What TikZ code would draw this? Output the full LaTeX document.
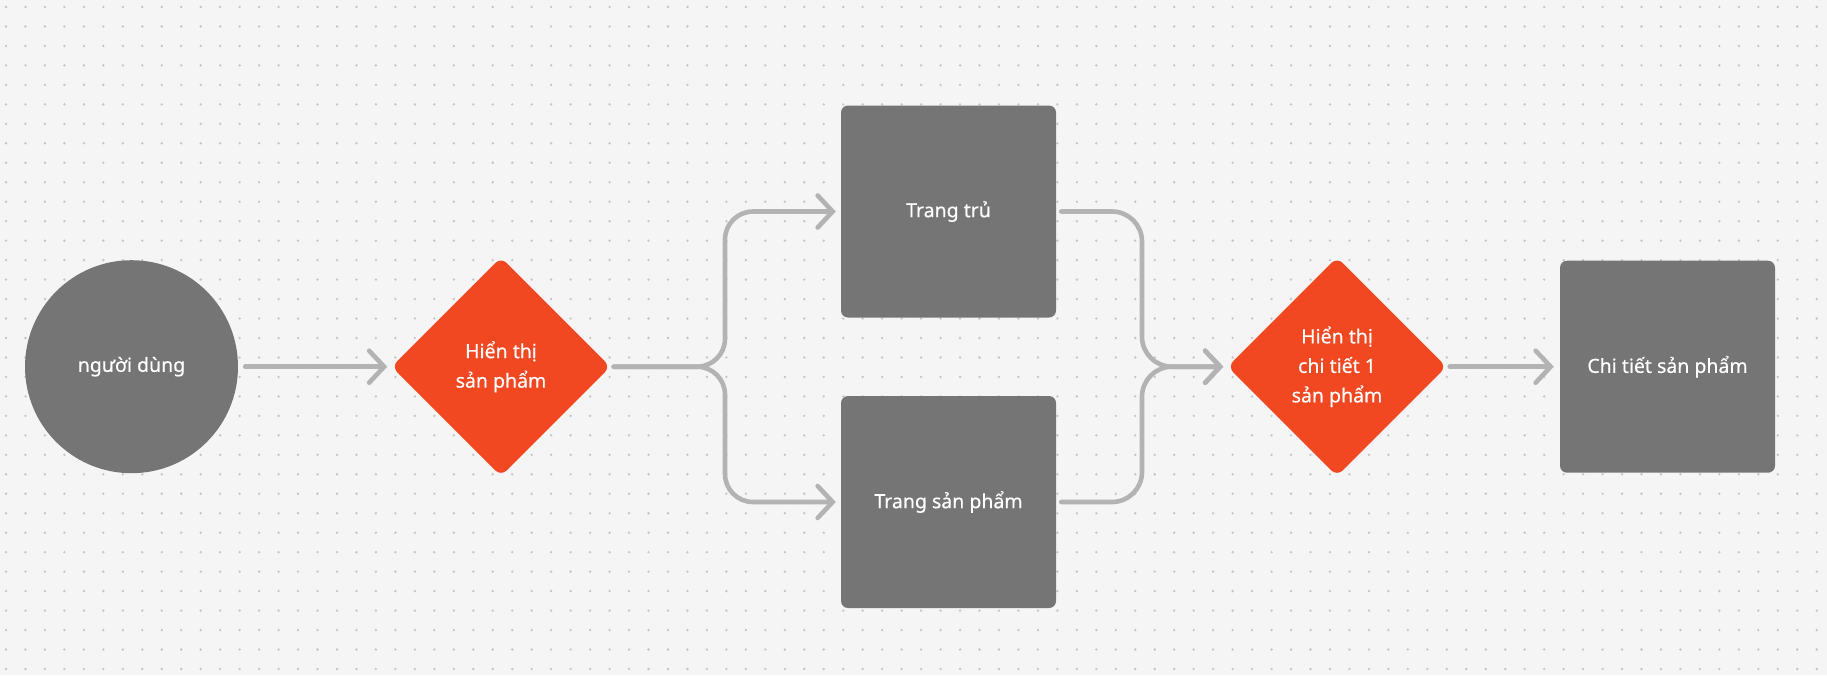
\documentclass[tikz,border=0pt]{standalone}
\usepackage{fontspec}
\setmainfont{Noto Sans}
\usetikzlibrary{shapes.geometric,arrows.meta}
\definecolor{bgc}{HTML}{F5F5F5}
\definecolor{dotc}{HTML}{C4C4C4}
\definecolor{boxc}{HTML}{757575}
\definecolor{orng}{HTML}{F24822}
\definecolor{linec}{HTML}{B3B3B3}
\tikzset{
  lbl/.style={text=white, align=center, font=\fontsize{19.5}{29.5}\selectfont\addfontfeature{FakeBold=0.4}},
  userc/.style={circle, fill=boxc, minimum size=213pt, inner sep=0pt, lbl},
  decis/.style={diamond, fill=orng, minimum width=219pt, minimum height=219pt, inner sep=0pt, rounded corners=8pt, lbl},
  pagebox/.style={rectangle, fill=boxc, minimum width=215pt, minimum height=212pt, rounded corners=7pt, lbl},
  conn/.style={draw=linec, line width=4.6pt, line cap=round, line join=round,
    -{Straight Barb[length=15pt,width=32pt,line cap=round]}},
}
\begin{document}
\begin{tikzpicture}[x=1pt,y=-1pt]
\useasboundingbox (0,0) rectangle (1827,675);
\fill[bgc] (0,0) rectangle (1827,675);
\foreach \i in {0,...,93}{
  \foreach \j in {0,...,34}{
    \fill[dotc] ({6+19.47*\i},{7+19.47*\j}) circle (1.3pt);
  }
}
\node[userc] (user) at (131.5,366.7) {\raisebox{-4pt}{người dùng}};
\node[decis] (d1) at (501,366.7) {Hiển thị\\sản phẩm};
\node[pagebox] (r1) at (948.5,211.5) {\raisebox{-4pt}{Trang trủ}};
\node[pagebox] (r2) at (948.5,502) {\raisebox{-4pt}{Trang sản phẩm}};
\node[decis] (d2) at (1337,366.7) {Hiển thị\\chi tiết 1\\sản phẩm};
\node[pagebox] (r3) at (1667.5,366.7) {\raisebox{-4pt}{Chi tiết sản phẩm}};
\coordinate (bx) at (725,0);
\coordinate (mx) at (1142,0);

\draw[conn] ([xshift=7pt]user.east) -- ([xshift=-4pt]d1.west);
\draw[conn, rounded corners=28pt] ([xshift=3pt]d1.east) -- (bx |- d1.east) -- (bx |- r1.west) -- ([xshift=-5pt]r1.west);
\draw[conn, rounded corners=28pt] ([xshift=3pt]d1.east) -- (bx |- d1.east) -- (bx |- r2.west) -- ([xshift=-5pt]r2.west);
\draw[conn, rounded corners=30pt] ([xshift=5pt]r1.east) -- (mx |- r1.east) -- (mx |- d2.west) -- ([xshift=-4pt]d2.west);
\draw[conn, rounded corners=30pt] ([xshift=5pt]r2.east) -- (mx |- r2.east) -- (mx |- d2.west) -- ([xshift=-4pt]d2.west);
\draw[conn] ([xshift=3pt]d2.east) -- ([xshift=-6pt]r3.west);
\end{tikzpicture}
\end{document}
